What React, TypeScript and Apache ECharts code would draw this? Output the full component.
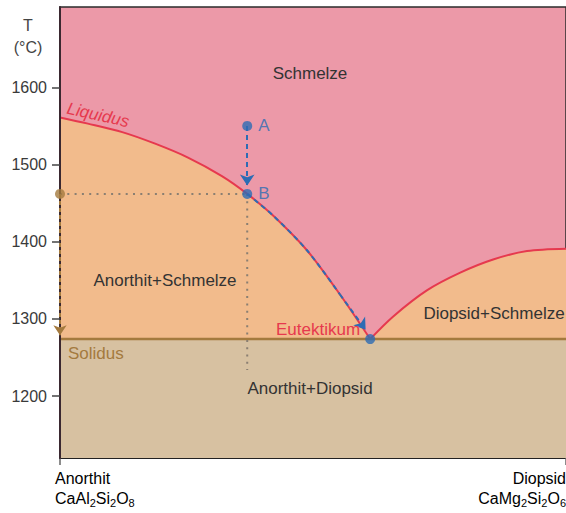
import React, { useEffect, useRef } from 'react';
import * as echarts from 'echarts';

// Liquidus branches (x = % Diopsid, y = T in °C)
const liquidusAnorthit: number[][] = [
  [0, 1561], [5.5, 1553], [12.3, 1542], [18.8, 1527], [25.3, 1509], [32, 1485],
  [37, 1462], [42.1, 1434], [48.8, 1389], [55.3, 1332], [61.3, 1274],
];
const liquidusDiopsid: number[][] = [
  [61.3, 1274], [65.8, 1303], [72.5, 1337], [79.1, 1360], [85.6, 1377], [92.3, 1388], [100, 1391],
];
const solidusT = 1274;
const pointA = [37, 1550];
const pointB = [37, 1462];
const eutectic = [61.3, 1274];
const arrowTipAB = [37, 1473];
const arrowTipBE = [60.4, 1286];
const arrowTipSolidus = [0, 1279];
const lowerProbeT = 1234;
const yTicks = [1200, 1300, 1400, 1500, 1600];
const endMembers = ['Anorthit', 'Diopsid'];
const formulas: string[][][] = [
  [['CaAl', '2'], ['Si', '2'], ['O', '8']],
  [['CaMg', '2'], ['Si', '2'], ['O', '6']],
];
const regionLabels = ['Schmelze', 'Anorthit+Schmelze', 'Diopsid+Schmelze', 'Anorthit+Diopsid'];

const FONT = '"Liberation Sans", Arial, Helvetica, sans-serif';
const PINK = '#EC99A8';
const ORANGE = '#F2BB8C';
const TAN = '#D7C1A1';
const BROWN = '#A47A3E';
const RED = '#E6394E';
const BLUE = '#2D6CB4';
const TEXT = '#333333';
const GUIDE = '#8a7f72';

function formulaRich(parts: string[][]) {
  return parts.map(([e, n]) => `{m|${e}}{s|${n}}`).join('');
}

function txt(text: string, x: number, y: number, opts: any = {}) {
  return {
    type: 'text',
    x,
    y,
    rotation: opts.rotation || 0,
    z: 100,
    style: {
      text,
      fill: opts.fill || TEXT,
      font: opts.font || `17px ${FONT}`,
      align: opts.align || 'center',
      textAlign: opts.align || 'center',
      verticalAlign: 'middle',
      textVerticalAlign: 'middle',
    },
  };
}

export default function App() {
  const ref = useRef<HTMLDivElement>(null);
  useEffect(() => {
    document.body.style.margin = '0';
    const chart = echarts.init(ref.current!, null, { renderer: 'svg' });
    const n = liquidusAnorthit.length;
    const pathBE = liquidusAnorthit.slice(6, n - 1);
    const lastBeforeTip = liquidusAnorthit[n - 2];
    const rich = {
      m: { fontSize: 16, fontFamily: FONT, color: TEXT, lineHeight: 20 },
      s: { fontSize: 11, fontFamily: FONT, color: TEXT, lineHeight: 12, padding: [10, 0, 0, 0] },
    };
    const SMOOTH = 0.3;
    const option: any = {
      animation: false,
      backgroundColor: '#ffffff',
      grid: {
        left: 60, right: -1, top: 7, bottom: 55, show: true,
        backgroundColor: PINK, borderColor: '#2b2b2b', borderWidth: 1.5,
      },
      xAxis: {
        type: 'value', min: 0, max: 100,
        axisLine: { show: true, onZero: false, lineStyle: { color: '#222', width: 2 } },
        axisTick: { show: true, customValues: [0, 100], length: 7, lineStyle: { color: '#666', width: 1.5 } },
        axisLabel: { show: false },
        splitLine: { show: false },
      },
      yAxis: {
        type: 'value', min: 1120, max: 1704, z: 5,
        axisLine: { show: true, onZero: false, lineStyle: { color: '#3a2830', width: 2 } },
        axisTick: { show: true, customValues: yTicks, length: 8, lineStyle: { color: '#444', width: 1.5 } },
        axisLabel: {
          customValues: yTicks, fontSize: 16, color: '#3a3a3a', margin: 13, fontFamily: FONT,
          formatter: (v: number) => String(v),
        },
        splitLine: { show: false },
      },
      series: [
        {
          type: 'line', data: liquidusAnorthit, symbol: 'none', smooth: SMOOTH, z: 2,
          lineStyle: { color: RED, width: 2 },
          areaStyle: { color: ORANGE, origin: 'start', opacity: 1 },
        },
        {
          type: 'line', data: liquidusDiopsid, symbol: 'none', smooth: SMOOTH, z: 2,
          lineStyle: { color: RED, width: 2 },
          areaStyle: { color: ORANGE, origin: 'start', opacity: 1 },
        },
        {
          type: 'line', data: [[0, solidusT], [100, solidusT]], symbol: 'none', z: 3,
          lineStyle: { color: BROWN, width: 2.5 },
          areaStyle: { color: TAN, origin: 'start', opacity: 1 },
        },
        {
          type: 'line', data: [[0, pointB[1]], pointB], symbol: 'none', z: 4,
          lineStyle: { color: GUIDE, width: 2, type: [2, 5.3] },
        },
        {
          type: 'line', data: [pointB, [pointB[0], lowerProbeT]], symbol: 'none', z: 4,
          lineStyle: { color: GUIDE, width: 2, type: [2, 5.3] },
        },
        {
          type: 'line', data: pathBE, symbol: 'none', smooth: SMOOTH, z: 6,
          lineStyle: { color: BLUE, width: 2, type: [5, 4] },
        },
        {
          type: 'lines', coordinateSystem: 'cartesian2d', clip: false, z: 6,
          symbol: ['none', 'arrow'], symbolSize: 11,
          lineStyle: { color: BLUE, width: 2, type: [5, 4], opacity: 1, curveness: 0 },
          data: [
            { coords: [pointA, arrowTipAB] },
            { coords: [lastBeforeTip, arrowTipBE] },
          ],
        },
        {
          type: 'lines', coordinateSystem: 'cartesian2d', clip: false, z: 7,
          symbol: ['none', 'arrow'], symbolSize: 10,
          lineStyle: { color: BROWN, width: 2, type: [4, 3], opacity: 1, curveness: 0 },
          data: [{ coords: [[0, pointB[1]], arrowTipSolidus] }],
        },
        {
          type: 'scatter', clip: false, z: 8, symbolSize: 10,
          itemStyle: { color: BLUE },
          label: { show: true, position: 'right', distance: 6, color: BLUE, fontSize: 17, fontFamily: FONT, formatter: (p: any) => p.name },
          data: [
            { name: 'A', value: pointA },
            { name: 'B', value: pointB },
            { name: '', value: eutectic },
          ],
        },
        {
          type: 'scatter', clip: false, z: 8, symbolSize: 10,
          itemStyle: { color: BROWN },
          data: [[0, pointB[1]]],
        },
      ],
      graphic: [
        txt('T', 28, 25, { font: `16px ${FONT}`, fill: '#444' }),
        txt('(°C)', 28, 47, { font: `16px ${FONT}`, fill: '#444' }),
        txt(regionLabels[0], 310, 73),
        txt(regionLabels[1], 165, 280),
        txt(regionLabels[2], 494, 313),
        txt(regionLabels[3], 310, 388),
        txt('Eutektikum', 318, 329, { fill: RED }),
        txt('Liquidus', 98, 115, { fill: RED, font: `italic 17px ${FONT}`, rotation: -0.22 }),
        txt('Solidus', 68, 353, { fill: BROWN, align: 'left' }),
        {
          type: 'text', x: 55, y: 468, z: 100,
          style: { text: `{m|${endMembers[0]}}\n${formulaRich(formulas[0])}`, rich, align: 'left', textAlign: 'left' },
        },
        {
          type: 'text', x: 566, y: 468, z: 100,
          style: { text: `{m|${endMembers[1]}}\n${formulaRich(formulas[1])}`, rich, align: 'right', textAlign: 'right' },
        },
      ],
    };
    chart.setOption(option);
    return () => chart.dispose();
  }, []);
  return <div ref={ref} style={{ width: 566, height: 513 }} />;
}
